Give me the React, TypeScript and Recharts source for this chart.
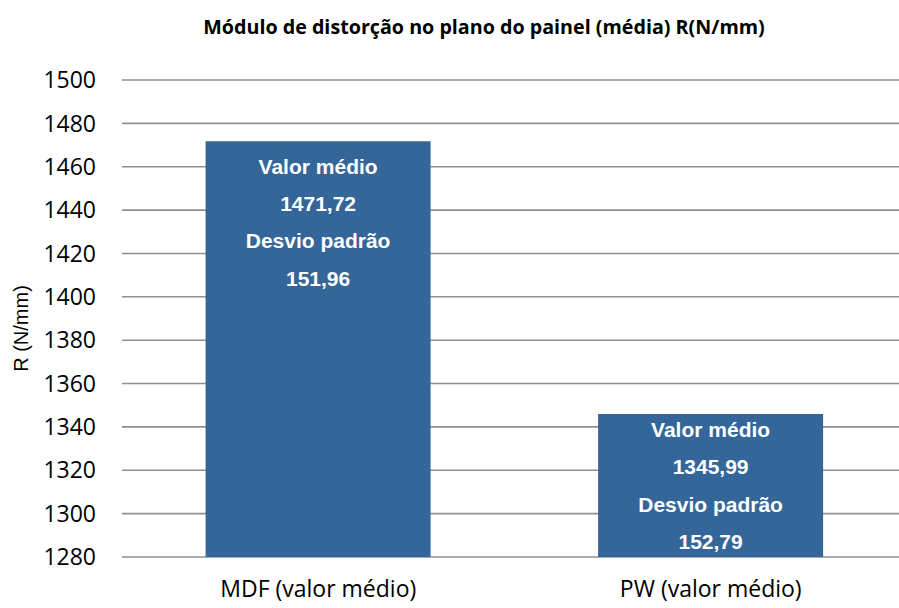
import React from "react";
import { BarChart, Bar, XAxis, YAxis, CartesianGrid, LabelList } from "recharts";

const categories = ["MDF (valor médio)", "PW (valor médio)"];
const meanValues = [1471.72, 1345.99];
const stdDevValues = [151.96, 152.79];
const yTicks = [1280, 1300, 1320, 1340, 1360, 1380, 1400, 1420, 1440, 1460, 1480, 1500];

const data = categories.map((c, i) => ({ name: c, mean: meanValues[i], sd: stdDevValues[i], idx: i }));

const fmt = (v: number) => v.toFixed(2).replace(".", ",");

const BarText = (props: any) => {
  const { x, y, width, height, index } = props;
  const cx = x + width / 2;
  const step = 37.3;
  const first = height > 200 ? y + 25 : y + height / 2 - step * 1.5;
  const lines = ["Valor médio", fmt(meanValues[index]), "Desvio padrão", fmt(stdDevValues[index])];
  return (
    <g>
      {lines.map((t, i) => (
        <text
          key={i}
          x={cx}
          y={first + i * step}
          textAnchor="middle"
          dominantBaseline="central"
          fill="#ffffff"
          fontFamily="'Liberation Sans', Arial, sans-serif"
          fontWeight="bold"
          fontSize={21}
        >
          {t}
        </text>
      ))}
    </g>
  );
};

const YLabel = (props: any) => {
  const vb = props.viewBox || {};
  const cy = vb.y + vb.height / 2 + 10;
  return (
    <text
      x={21}
      y={cy}
      transform={`rotate(-90, 21, ${cy})`}
      textAnchor="middle"
      dominantBaseline="central"
      fill="#000"
      fontFamily="'Liberation Sans', Arial, sans-serif"
      fontSize={20}
    >
      R (N/mm)
    </text>
  );
};

export default function App() {
  return (
    <>
      <style>{"html,body{margin:0;padding:0;overflow:hidden;background:#fff;}"}</style>
      <div style={{ position: "relative", width: 899, height: 608, background: "#fff", overflow: "hidden" }}>
        <div
          style={{
            position: "absolute",
            left: 484,
            top: 26,
            transform: "translate(-50%, -50%)",
            whiteSpace: "nowrap",
            fontFamily: "'Open Sans', sans-serif",
            fontWeight: 700,
            fontSize: 19.7,
            color: "#000",
          }}
        >
          Módulo de distorção no plano do painel (média) R(N/mm)
        </div>
        <BarChart
          width={930}
          height={608}
          data={data}
          margin={{ top: 80, right: 23, bottom: 0, left: 0 }}
          barCategoryGap="21.3%"
        >
          <CartesianGrid vertical={false} stroke="#8f8f8f" strokeWidth={1.6} />
          <XAxis
            dataKey="name"
            height={51}
            axisLine={false}
            tickLine={false}
            tickSize={0}
            tickMargin={24}
            tick={{ fill: "#000", fontSize: 23, fontFamily: "'Open Sans', sans-serif" }}
          />
          <YAxis
            width={122}
            domain={[1280, 1500]}
            ticks={yTicks}
            allowDataOverflow
            axisLine={false}
            tickLine={false}
            tickSize={0}
            tickMargin={26}
            tick={{ fill: "#000", fontSize: 23, fontFamily: "'Open Sans', sans-serif" }}
            label={<YLabel />}
          />
          <Bar dataKey="mean" fill="#346699" isAnimationActive={false}>
            <LabelList dataKey="mean" content={<BarText />} />
          </Bar>
        </BarChart>
      </div>
    </>
  );
}
